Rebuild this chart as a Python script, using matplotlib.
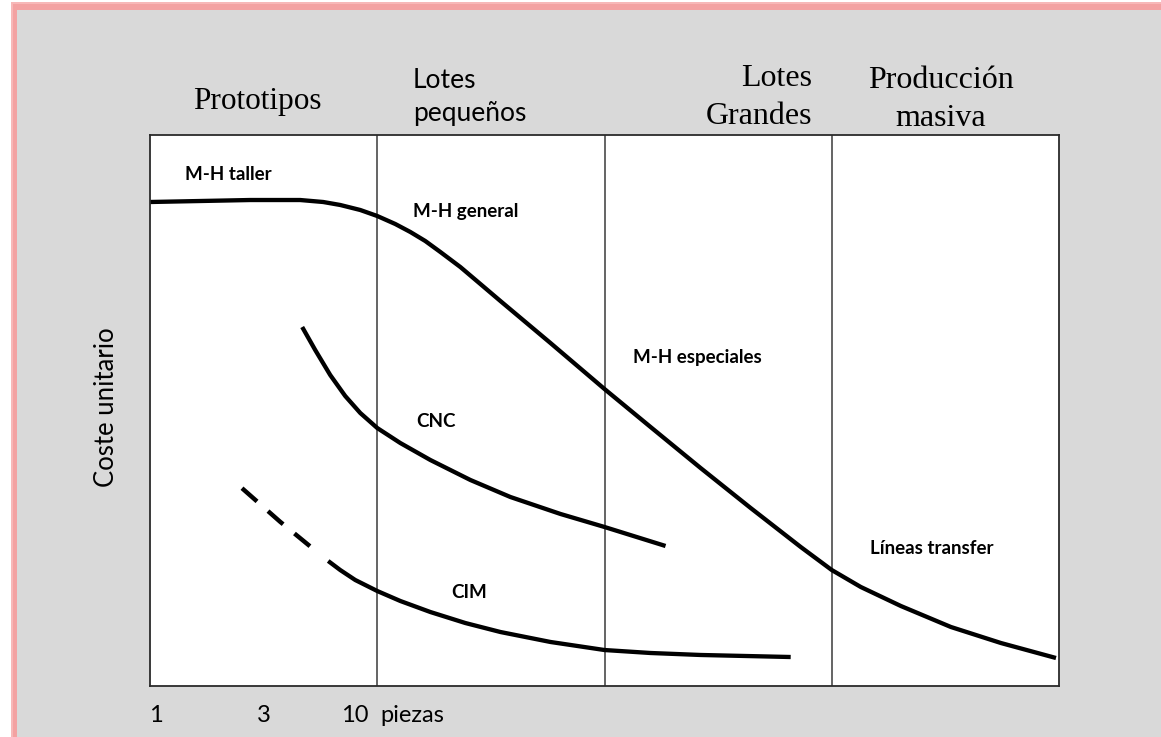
import matplotlib
matplotlib.use("Agg")
import matplotlib.pyplot as plt
from matplotlib.patches import Rectangle

W, H = 1161, 737

# ---- data (x = number of pieces, log scale; y = relative unit cost) ----
mh_x = [1, 1.661, 2.758, 4.58, 5.783, 6.871, 8.418, 10, 12.0, 13.98, 16.27, 18.95,
        23.21, 28.43, 34.83, 57.83, 100, 159.4, 264.8, 439.8, 730.2, 1000, 1342,
        2014, 3344, 5553, 9700]
mh_y = [87.84, 88.02, 88.20, 88.20, 87.84, 87.30, 86.39, 85.30, 83.85, 82.40, 80.76,
        78.77, 76.04, 72.96, 69.87, 62.25, 53.90, 47.01, 39.56, 32.30, 25.23, 21.05,
        17.97, 14.52, 10.71, 7.80, 5.08]

cnc_x = [4.674, 5.333, 6.209, 7.228, 8.418, 10, 12.63, 17.12, 25.69, 38.54, 64.03, 100, 185.6]
cnc_y = [65.15, 60.98, 56.44, 52.63, 49.55, 46.82, 44.10, 41.02, 37.39, 34.30, 31.22, 28.86, 25.41]

cim_dash_x = [2.54, 3.74, 5.44]
cim_dash_y = [35.9, 29.8, 24.3]
cim_x = [6.083, 6.871, 8.0, 10, 12.63, 17.12, 24.42, 34.83, 57.83, 100, 159.4, 264.8, 659.6]
cim_y = [22.69, 21.05, 19.24, 17.24, 15.43, 13.43, 11.43, 9.80, 7.99, 6.53, 5.99, 5.63, 5.26]

dividers = [10, 100, 1000]
tick_labels = ["1", "3", "10", "piezas"]
row2_labels = ["5", "100", "1000", "Tamaño de lote de fabricación"]

SERIF = "Liberation Serif"
SANS = "Lato"

fig = plt.figure(figsize=(W / 100, H / 100), dpi=100, facecolor="white")

def fx(x):
    return x / W

def fy(y):
    return 1 - y / H

# background frame: pink shadow and grey panel
fig.patches.append(Rectangle((fx(11), 0), 1, fy(2), transform=fig.transFigure,
                             facecolor="#f7b8b8", edgecolor="none", zorder=-10))
fig.patches.append(Rectangle((fx(13), 0), 1, fy(4), transform=fig.transFigure,
                             facecolor="#f3a2a2", edgecolor="none", zorder=-9))
fig.patches.append(Rectangle((fx(17), 0), 1, fy(10), transform=fig.transFigure,
                             facecolor="#d9d9d9", edgecolor="none", zorder=-8))

ax = fig.add_axes([fx(150), fy(686), (1059 - 150) / W, (686 - 135) / H])
ax.set_facecolor("white")
ax.set_xscale("log")
ax.set_xlim(1, 10000)
ax.set_ylim(0, 100)
ax.set_xticks([])
ax.set_yticks([])
ax.minorticks_off()
for s in ax.spines.values():
    s.set_color("#2a2a2a")
    s.set_linewidth(1.3)

for d in dividers:
    ax.axvline(d, color="#3a3a3a", lw=1.1)

kw = dict(color="black", lw=3.1, solid_capstyle="butt", solid_joinstyle="round")
ax.plot(mh_x, mh_y, **kw)
ax.plot(cnc_x, cnc_y, **kw)
ax.plot(cim_x, cim_y, **kw)
ax.plot(cim_dash_x, cim_dash_y, color="black", lw=3.2, linestyle=(0, (4.5, 3.3)),
        dash_capstyle="butt")

# curve labels (bold sans)
lab = dict(fontsize=13.5, fontweight="bold", family=SANS, ha="left", va="center")
fig.text(fx(185), fy(175), "M-H taller", **lab)
fig.text(fx(413), fy(212), "M-H general", **lab)
fig.text(fx(633), fy(358), "M-H especiales", **lab)
fig.text(fx(416), fy(422), "CNC", **lab)
fig.text(fx(870), fy(548), "Líneas transfer", **lab)
fig.text(fx(451), fy(592), "CIM", **lab)

# region headers
fig.text(fx(257), fy(102), "Prototipos", family=SERIF, fontsize=22.5, ha="center", va="center")
fig.text(fx(413), fy(80), "Lotes", family=SANS, fontsize=19, ha="left", va="center")
fig.text(fx(413), fy(114), "pequeños", family=SANS, fontsize=19, ha="left", va="center")
fig.text(fx(812), fy(79), "Lotes", family=SERIF, fontsize=23, ha="right", va="center")
fig.text(fx(812), fy(117), "Grandes", family=SERIF, fontsize=23, ha="right", va="center")
fig.text(fx(941), fy(81), "Producción", family=SERIF, fontsize=23, ha="center", va="center")
fig.text(fx(941), fy(119), "masiva", family=SERIF, fontsize=23, ha="center", va="center")

# axis texts
fig.text(fx(107), fy(407), "Coste unitario", family=SANS, fontsize=18.5, rotation=90,
         ha="center", va="center")
tick_px = [149, 257, 341, 380]
for t, xp in zip(tick_labels, tick_px):
    fig.text(fx(xp), fy(716), t, family=SANS, fontsize=17, ha="left", va="center")

# second row, mostly cut off by the image border
row2_px = [418, 495, 578, 640]
for t, xp in zip(row2_labels, row2_px):
    fig.text(fx(xp), fy(748), t, family=SANS, fontsize=17, ha="left", va="center")

fig.savefig("out.png", dpi=100, facecolor=fig.get_facecolor())
